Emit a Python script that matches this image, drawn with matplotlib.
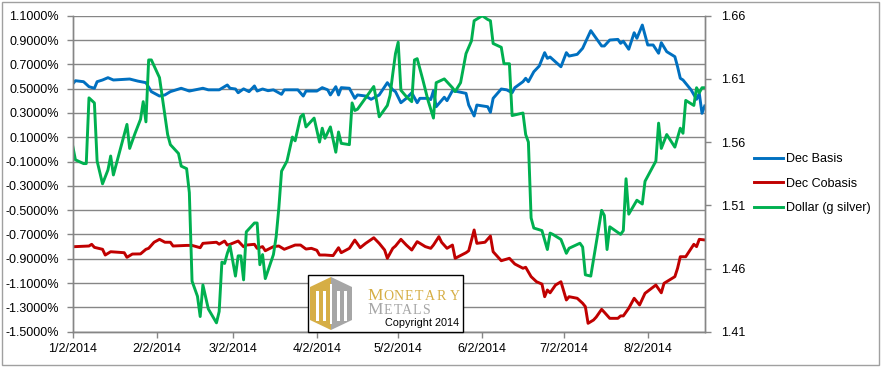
import numpy as np
import matplotlib
matplotlib.use('Agg')
import matplotlib.pyplot as plt
from matplotlib.patches import Rectangle, Polygon

plt.rcParams['font.family'] = ['Liberation Sans', 'DejaVu Sans']

# ---------------- data (day offsets from 2014-01-02) ----------------
start_date = '2014-01-02'
end_offset = 233

basis_days = [0, 1, 4, 6, 8, 9, 11, 13, 15, 21, 24, 27, 29, 32, 34, 36, 40, 43, 48, 50,
              54, 57, 58, 60, 61, 63, 65, 67, 68, 70, 72, 74, 77, 78, 83, 85, 86, 90, 92, 94,
              95, 97, 98, 99, 102, 104, 105, 108, 110, 113, 116, 118, 119, 121, 123, 125, 127, 128, 131, 132,
              133, 134, 137, 138, 140, 142, 145, 146, 148, 149, 153, 154, 155, 158, 160, 162, 163, 166, 167, 168,
              170, 172, 174, 175, 176, 180, 182, 183, 186, 188, 191, 193, 195, 196, 198, 201, 202, 203, 205, 207,
              208, 210, 212, 214, 216, 217, 219, 222, 223, 224, 225, 228, 230, 231, 232, 233]
basis_vals = [0.538, 0.565, 0.557, 0.516, 0.503, 0.557, 0.571, 0.590, 0.571, 0.579, 0.562, 0.549, 0.475, 0.439, 0.448, 0.475, 0.503, 0.480, 0.503, 0.490,
              0.490, 0.530, 0.503, 0.497, 0.466, 0.498, 0.475, 0.522, 0.480, 0.497, 0.483, 0.490, 0.453, 0.490, 0.490, 0.439, 0.480, 0.480, 0.508, 0.490,
              0.448, 0.516, 0.448, 0.508, 0.503, 0.420, 0.448, 0.439, 0.412, 0.448, 0.549, 0.490, 0.475, 0.384, 0.420, 0.466, 0.384, 0.420, 0.420, 0.410,
              0.483, 0.351, 0.429, 0.401, 0.483, 0.475, 0.461, 0.365, 0.275, 0.365, 0.351, 0.305, 0.420, 0.497, 0.490, 0.466, 0.508, 0.557, 0.585, 0.557,
              0.639, 0.686, 0.796, 0.749, 0.760, 0.680, 0.796, 0.768, 0.782, 0.832, 0.977, 0.914, 0.851, 0.851, 0.900, 0.905, 0.873, 0.890, 0.824, 0.960,
              0.914, 1.023, 0.859, 0.859, 0.791, 0.878, 0.804, 0.763, 0.680, 0.585, 0.571, 0.489, 0.412, 0.461, 0.297, 0.357]

cobasis_days = [0, 6, 7, 8, 11, 12, 14, 19, 20, 22, 25, 27, 28, 30, 32, 34, 36, 37, 42, 44,
                47, 48, 53, 54, 56, 57, 58, 61, 63, 64, 67, 68, 70, 71, 74, 76, 78, 82, 84, 86,
                88, 90, 91, 93, 96, 98, 99, 102, 104, 106, 108, 111, 113, 115, 116, 118, 119, 121, 123, 125,
                127, 130, 132, 133, 135, 136, 138, 140, 141, 145, 146, 148, 149, 152, 154, 155, 158, 161, 163, 166,
                167, 169, 171, 173, 174, 175, 176, 178, 180, 182, 183, 186, 188, 189, 190, 192, 193, 195, 196, 198,
                201, 202, 203, 205, 207, 209, 211, 215, 217, 218, 222, 223, 224, 226, 229, 230, 231, 233]
cobasis_vals = [-0.801, -0.795, -0.781, -0.806, -0.822, -0.869, -0.842, -0.850, -0.888, -0.861, -0.860, -0.822, -0.814, -0.764, -0.740, -0.764, -0.764, -0.795, -0.790, -0.790,
                -0.809, -0.773, -0.764, -0.780, -0.754, -0.787, -0.781, -0.754, -0.801, -0.787, -0.781, -0.814, -0.800, -0.834, -0.800, -0.795, -0.822, -0.787, -0.787, -0.820,
                -0.814, -0.830, -0.869, -0.869, -0.874, -0.809, -0.850, -0.814, -0.746, -0.809, -0.773, -0.727, -0.773, -0.828, -0.896, -0.814, -0.795, -0.740, -0.787, -0.828,
                -0.759, -0.800, -0.814, -0.787, -0.718, -0.764, -0.814, -0.787, -0.896, -0.850, -0.834, -0.663, -0.773, -0.764, -0.713, -0.842, -0.916, -0.896, -0.943, -0.978,
                -0.970, -1.047, -1.089, -1.108, -1.212, -1.157, -1.180, -1.116, -1.089, -1.239, -1.212, -1.225, -1.266, -1.294, -1.431, -1.404, -1.380, -1.316, -1.340, -1.390,
                -1.390, -1.370, -1.370, -1.307, -1.225, -1.280, -1.184, -1.116, -1.180, -1.102, -1.047, -0.978, -0.883, -0.883, -0.781, -0.800, -0.740, -0.745]

dollar_days = [0, 1, 4, 5, 6, 8, 9, 11, 13, 14, 15, 20, 21, 23, 25, 26, 27, 28, 29, 32,
               35, 36, 39, 40, 42, 43, 44, 46, 47, 48, 50, 53, 54, 55, 56, 57, 58, 60, 61, 62,
               63, 64, 67, 68, 69, 70, 71, 74, 75, 76, 77, 79, 81, 82, 84, 85, 86, 89, 91, 92,
               93, 95, 97, 98, 99, 102, 103, 104, 105, 108, 111, 112, 113, 116, 117, 118, 119, 120, 121, 123,
               125, 126, 127, 129, 131, 133, 134, 137, 140, 141, 143, 145, 147, 148, 151, 153, 154, 155, 158, 159,
               161, 162, 166, 167, 168, 169, 170, 173, 175, 176, 177, 180, 182, 183, 187, 188, 189, 191, 193, 195,
               196, 197, 198, 202, 203, 204, 205, 208, 210, 211, 215, 216, 217, 219, 222, 224, 225, 226, 229, 230,
               231, 232, 233]
dollar_vals = [1.557, 1.546, 1.543, 1.543, 1.595, 1.591, 1.545, 1.527, 1.538, 1.549, 1.534, 1.574, 1.555, 1.567, 1.578, 1.592, 1.576, 1.625, 1.625, 1.611,
               1.566, 1.558, 1.551, 1.541, 1.539, 1.520, 1.450, 1.438, 1.422, 1.447, 1.428, 1.417, 1.426, 1.465, 1.464, 1.472, 1.478, 1.454, 1.470, 1.470,
               1.451, 1.489, 1.496, 1.496, 1.463, 1.471, 1.452, 1.471, 1.485, 1.508, 1.537, 1.545, 1.564, 1.561, 1.580, 1.582, 1.572, 1.579, 1.560, 1.571,
               1.563, 1.572, 1.552, 1.568, 1.559, 1.558, 1.591, 1.585, 1.586, 1.595, 1.604, 1.593, 1.580, 1.589, 1.597, 1.614, 1.630, 1.639, 1.601, 1.596,
               1.592, 1.625, 1.626, 1.610, 1.593, 1.579, 1.607, 1.610, 1.603, 1.600, 1.607, 1.630, 1.640, 1.656, 1.660, 1.657, 1.656, 1.638, 1.635, 1.622,
               1.622, 1.581, 1.583, 1.566, 1.560, 1.500, 1.492, 1.490, 1.475, 1.488, 1.487, 1.483, 1.472, 1.476, 1.480, 1.477, 1.455, 1.454, 1.480, 1.506,
               1.502, 1.475, 1.493, 1.487, 1.490, 1.531, 1.503, 1.514, 1.511, 1.529, 1.545, 1.575, 1.555, 1.566, 1.556, 1.571, 1.567, 1.593, 1.589, 1.603,
               1.599, 1.603, 1.603]

series_names = ['Dec Basis', 'Dec Cobasis', 'Dollar (g silver)']
series_colors = ['#0070C0', '#C00000', '#00B050']

x_tick_dates = ['2014-01-02', '2014-02-02', '2014-03-02', '2014-04-02',
                '2014-05-02', '2014-06-02', '2014-07-02', '2014-08-02']
x_tick_labels = ['1/2/2014', '2/2/2014', '3/2/2014', '4/2/2014',
                 '5/2/2014', '6/2/2014', '7/2/2014', '8/2/2014']
left_ticks = [-1.5, -1.3, -1.1, -0.9, -0.7, -0.5, -0.3, -0.1, 0.1, 0.3, 0.5, 0.7, 0.9, 1.1]
right_ticks = [1.41, 1.46, 1.51, 1.56, 1.61, 1.66]

# ---------------- figure ----------------
W, H = 881, 367
fig = plt.figure(figsize=(W / 100, H / 100), dpi=100)
fig.patch.set_facecolor('white')

L, R, T, B = 72.7, 704.7, 15.7, 331.7
ax = fig.add_axes([L / W, 1 - B / H, (R - L) / W, (B - T) / H])
ax2 = ax.twinx()

start = np.datetime64(start_date)
def to_dates(days):
    return start + np.array(days, dtype='timedelta64[D]')

lw = 2.1
l1, = ax.plot(to_dates(basis_days), basis_vals, color=series_colors[0], lw=lw, solid_joinstyle='round')
l2, = ax.plot(to_dates(cobasis_days), cobasis_vals, color=series_colors[1], lw=lw, solid_joinstyle='round')
l3, = ax2.plot(to_dates(dollar_days), dollar_vals, color=series_colors[2], lw=lw, solid_joinstyle='round')

ax.set_xlim(start, start + np.timedelta64(end_offset, 'D'))
ax.set_ylim(-1.5, 1.1)
ax2.set_ylim(1.41, 1.66)

grid_c = '#868686'
ax.set_yticks(left_ticks)
ax.set_yticklabels([f'{v:.4f}%' for v in left_ticks])
ax2.set_yticks(right_ticks)
ax2.set_yticklabels([f'{v:.2f}' for v in right_ticks])
ax.set_xticks(np.array(x_tick_dates, dtype='datetime64[D]'))
ax.set_xticklabels(x_tick_labels)

ax.yaxis.grid(True, color=grid_c, lw=1.0)
ax.xaxis.grid(False)
ax.set_axisbelow(True)

for a in (ax, ax2):
    a.spines['top'].set_visible(False)
    for s in ('left', 'right', 'bottom'):
        a.spines[s].set_color(grid_c)
        a.spines[s].set_linewidth(1.0)
    a.tick_params(axis='both', colors=grid_c, labelcolor='black', labelsize=9,
                  length=4.5, width=1.0, direction='out')
ax.tick_params(axis='y', pad=5.5)
ax2.tick_params(axis='y', pad=7)
ax.tick_params(axis='x', pad=3.5)
ax.patch.set_alpha(0)

# legend
fig.legend([l1, l2, l3], series_names, loc='upper left',
           bbox_to_anchor=(754 / W, 1 - 153 / H), frameon=False, fontsize=9,
           handlelength=2.3, handletextpad=0.3, labelspacing=1.0,
           borderpad=0, borderaxespad=0)

# figure border
fig.patches.append(Rectangle((2 / W, 2 / H), (W - 4) / W, (H - 4) / H,
                             transform=fig.transFigure, fill=False,
                             ec='#A0A0A0', lw=1.0))

# ---------------- logo overlay ----------------
lax = fig.add_axes([0, 0, 1, 1], zorder=10)
lax.set_xlim(0, W)
lax.set_ylim(H, 0)
lax.axis('off')
lax.patch.set_alpha(0)

gold = '#D6AE45'
gray = '#A6A6A6'
lax.add_patch(Rectangle((308, 275), 155, 56.5, fc='white', ec='black', lw=1.0))
lax.add_patch(Polygon([(310, 287), (331, 277), (331, 330), (310, 320)], closed=True, fc=gold, ec='none'))
lax.add_patch(Polygon([(331, 277), (352, 287), (352, 320), (331, 330)], closed=True, fc=gray, ec='none'))
for x0 in (316, 323, 337, 344):
    lax.add_patch(Rectangle((x0, 291), 3.2, 30, fc='white', ec='none'))
lax.add_patch(Rectangle((330.3, 284), 1.4, 40, fc='white', ec='none'))

serif = ['Liberation Serif', 'DejaVu Serif']
lax.text(375, 299.5, 'M', fontsize=12.5, color=gold, family=serif, ha='center', va='baseline')
for ch, cx in zip('ONETARY', [388.5, 398.7, 409.2, 419.2, 430.0, 441.7, 455.0]):
    lax.text(cx, 299.5, ch, fontsize=10, color=gold, family=serif, ha='center', va='baseline')
lax.text(375, 314.5, 'M', fontsize=12.5, color=gray, family=serif, ha='center', va='baseline')
for ch, cx in zip('ETALS', [387.8, 397.5, 407.2, 417.0, 426.3]):
    lax.text(cx, 314.5, ch, fontsize=10, color=gray, family=serif, ha='center', va='baseline')
lax.text(422, 323.5, 'Copyright 2014', fontsize=7.8, color='black', ha='center', va='center')

fig.savefig('out.png', dpi=100)
